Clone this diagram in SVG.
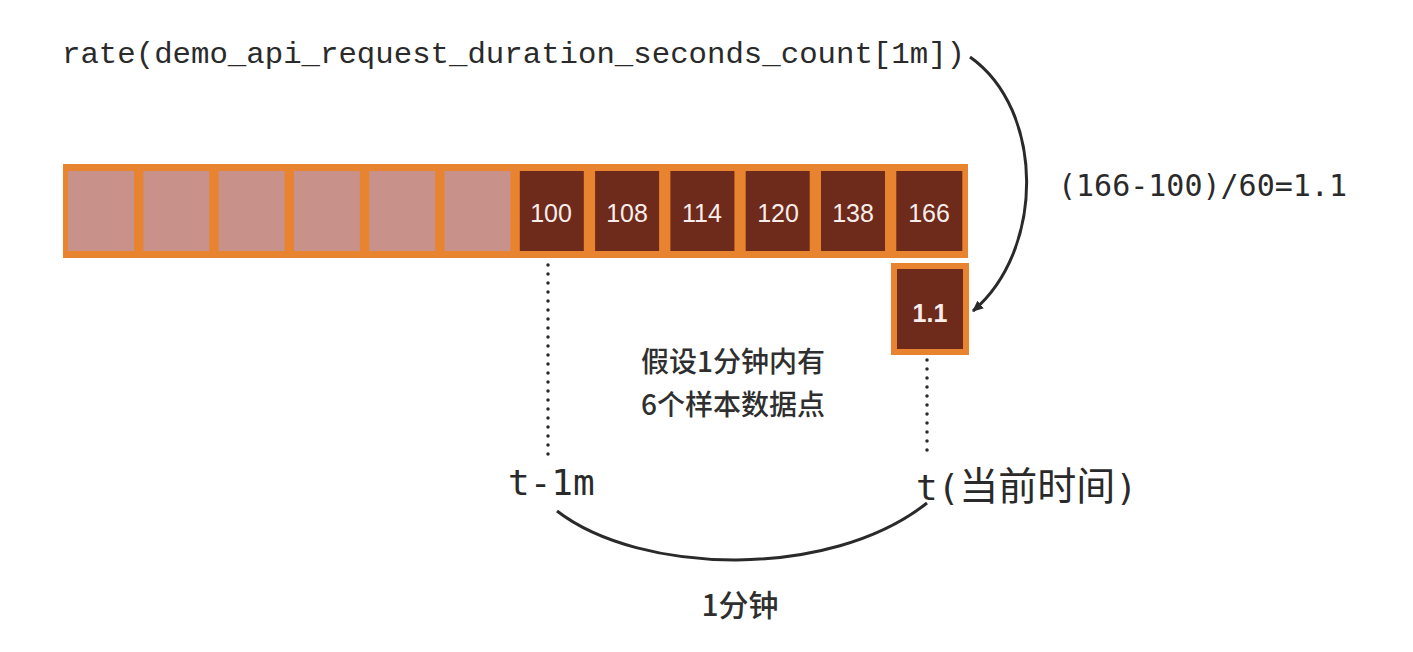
<svg xmlns="http://www.w3.org/2000/svg" width="1413" height="652" viewBox="0 0 1413 652">
<defs>
<style>
.bar{fill:#E8832F}
.empty{fill:#C8918A}
.full{fill:#6E2A1A}
.num{font-family:"Liberation Sans",Arial,sans-serif;font-size:25px;fill:#F7EDEA;text-anchor:middle}
.mono{font-family:"DejaVu Sans Mono","Liberation Mono","Noto Sans CJK SC",monospace;fill:#2a2a2a}
.cjk{font-family:"Noto Sans CJK SC",sans-serif;fill:#2f2f2f;text-anchor:middle;font-weight:500}
.dot{stroke:#2a2a2a;stroke-width:3.5;stroke-linecap:round;stroke-dasharray:0 9;fill:none}
.line{stroke:#2a2a2a;stroke-width:3;fill:none}
</style>
<marker id="arr" markerWidth="12" markerHeight="12" refX="10" refY="6" orient="auto" markerUnits="userSpaceOnUse">
<path d="M0,1 L11,6 L0,11 Z" fill="#2a2a2a"/>
</marker>
</defs>
<rect width="1413" height="652" fill="#ffffff"/>

<g id="query">
<text class="mono" x="62" y="63" style="font-family:'Liberation Mono','DejaVu Sans Mono',monospace" font-size="30" textLength="903" lengthAdjust="spacingAndGlyphs">rate(demo_api_request_duration_seconds_count[1m])</text>
</g>

<g id="series">
<rect class="bar" x="63" y="164" width="905" height="94"/>
<rect class="empty" x="68" y="171" width="66" height="80"/>
<rect class="empty" x="143.3" y="171" width="66" height="80"/>
<rect class="empty" x="218.6" y="171" width="66" height="80"/>
<rect class="empty" x="293.9" y="171" width="66" height="80"/>
<rect class="empty" x="369.2" y="171" width="66" height="80"/>
<rect class="empty" x="444.5" y="171" width="66" height="80"/>
<g id="s100"><rect class="full" x="519.8" y="171" width="64" height="80"/><text class="num" x="551" y="222">100</text></g>
<g id="s108"><rect class="full" x="595.1" y="171" width="64" height="80"/><text class="num" x="627" y="222">108</text></g>
<g id="s114"><rect class="full" x="670.4" y="171" width="64" height="80"/><text class="num" x="702" y="222">114</text></g>
<g id="s120"><rect class="full" x="745.7" y="171" width="64" height="80"/><text class="num" x="778" y="222">120</text></g>
<g id="s138"><rect class="full" x="821" y="171" width="64" height="80"/><text class="num" x="853" y="222">138</text></g>
<g id="s166"><rect class="full" x="896.3" y="171" width="66" height="80"/><text class="num" x="929" y="222">166</text></g>
</g>

<g id="result">
<rect class="bar" x="891" y="263" width="78" height="92"/>
<rect class="full" x="897" y="269" width="66" height="80"/>
<text class="num" x="930" y="322" font-weight="bold" font-size="23">1.1</text>
</g>

<g id="formula">
<text class="mono" x="1058" y="196" font-size="30">(166-100)/60=1.1</text>
</g>

<g id="note">
<text class="cjk" x="733" y="372" font-size="28">假设1分钟内有</text>
<text class="cjk" x="733" y="415" font-size="28">6个样本数据点</text>
</g>

<g id="label-start">
<text class="mono" x="508" y="495" font-size="36">t-1m</text>
</g>

<g id="label-now">
<text class="mono" x="916" y="500" font-size="36">t(<tspan style="font-family:'Noto Sans CJK SC',sans-serif" font-size="39">当前时间</tspan>)</text>
</g>

<g id="label-duration">
<text class="cjk" x="740" y="616" font-size="30">1分钟</text>
</g>

<g id="connectors">
<path class="line" d="M970,57 C1045,110 1045,250 973,311" marker-end="url(#arr)"/>
<line class="dot" x1="548" y1="265" x2="548" y2="456"/>
<line class="dot" x1="927" y1="360" x2="927" y2="456"/>
<path class="line" d="M557,511 C640,575 830,580 927,503"/>
</g>
</svg>
